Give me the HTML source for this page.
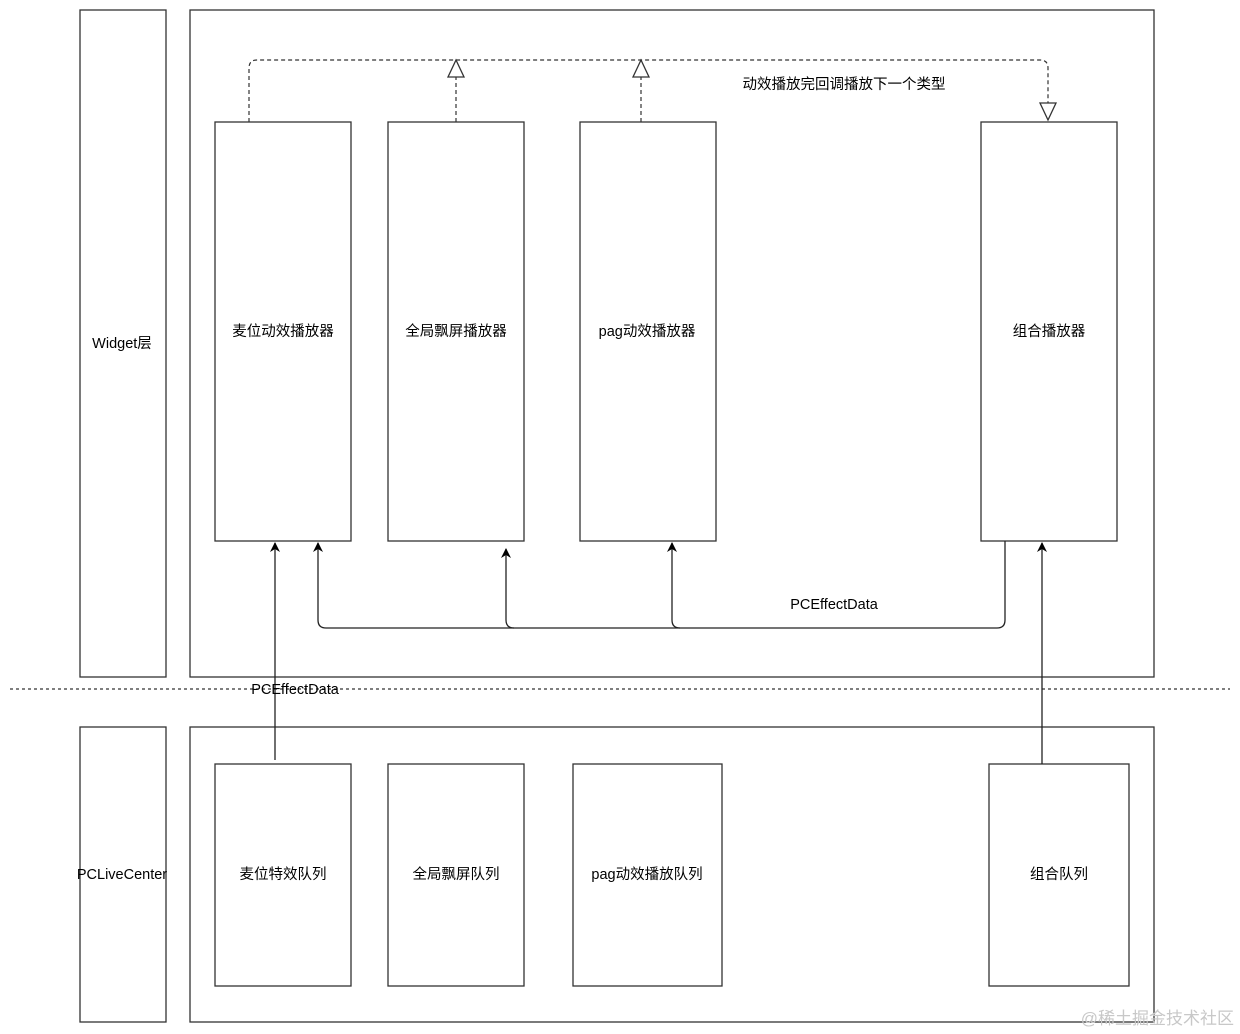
<!DOCTYPE html>
<html><head><meta charset="utf-8"><style>
html,body{margin:0;padding:0;background:#fff;}
svg{display:block;}
text{font-family:"Liberation Sans","Noto Sans CJK SC",sans-serif;font-size:14.5px;fill:#000;}
</style></head><body>
<svg width="1240" height="1034" viewBox="0 0 1240 1034" xmlns="http://www.w3.org/2000/svg">
<defs>
<marker id="a" viewBox="0 0 10 10" refX="9" refY="5" markerWidth="11" markerHeight="10" orient="auto" markerUnits="userSpaceOnUse">
<path d="M0,0 L10,5 L0,10 L3,5 Z" fill="#000"/></marker>
</defs>
<g fill="none" stroke="#333" stroke-width="1.3">
<rect x="80" y="10" width="86" height="667"/>
<rect x="80" y="727" width="86" height="295"/>
<rect x="190" y="10" width="964" height="667"/>
<rect x="190" y="727" width="964" height="295"/>
<rect x="215" y="122" width="136" height="419"/>
<rect x="388" y="122" width="136" height="419"/>
<rect x="580" y="122" width="136" height="419"/>
<rect x="981" y="122" width="136" height="419"/>
<rect x="215" y="764" width="136" height="222"/>
<rect x="388" y="764" width="136" height="222"/>
<rect x="573" y="764" width="149" height="222"/>
<rect x="989" y="764" width="140" height="222"/>
</g>
<line x1="10" y1="689" x2="1230" y2="689" stroke="#333" stroke-width="1.2" stroke-dasharray="3,3"/>
<g fill="none" stroke="#333" stroke-width="1.2" stroke-dasharray="4,3">
<path d="M249,122 V68 Q249,60 257,60 H1040 Q1048,60 1048,68 V103"/>
<line x1="456" y1="122" x2="456" y2="77"/>
<line x1="641" y1="122" x2="641" y2="77"/>
</g>
<g fill="#fff" stroke="#333" stroke-width="1.3">
<path d="M1040,103 L1056,103 L1048,120 Z"/>
<path d="M448,77 L464,77 L456,60 Z"/>
<path d="M633,77 L649,77 L641,60 Z"/>
</g>
<g fill="none" stroke="#222" stroke-width="1.3">
<line x1="275" y1="760" x2="275" y2="543" marker-end="url(#a)"/>
<line x1="1042" y1="764" x2="1042" y2="543" marker-end="url(#a)"/>
<path d="M1005,541 V620 Q1005,628 997,628 H326 Q318,628 318,620 V543" marker-end="url(#a)"/>
<path d="M514,628 Q506,628 506,620 V549" marker-end="url(#a)"/>
<path d="M680,628 Q672,628 672,620 V543" marker-end="url(#a)"/>
</g>
<text x="122" y="348" text-anchor="middle">Widget层</text>
<text x="122" y="879" text-anchor="middle">PCLiveCenter</text>
<text x="283" y="336" text-anchor="middle">麦位动效播放器</text>
<text x="456" y="336" text-anchor="middle">全局飘屏播放器</text>
<text x="647" y="336" text-anchor="middle">pag动效播放器</text>
<text x="1049" y="336" text-anchor="middle">组合播放器</text>
<text x="283" y="879" text-anchor="middle">麦位特效队列</text>
<text x="456" y="879" text-anchor="middle">全局飘屏队列</text>
<text x="647" y="879" text-anchor="middle">pag动效播放队列</text>
<text x="1059" y="879" text-anchor="middle">组合队列</text>
<text x="844" y="89" text-anchor="middle">动效播放完回调播放下一个类型</text>
<text x="834" y="609" text-anchor="middle">PCEffectData</text>
<text x="295" y="694" text-anchor="middle">PCEffectData</text>
<text x="1234" y="1024" text-anchor="end" style="font-size:17px;fill:#c8c8c8;">@稀土掘金技术社区</text>
</svg>
</body></html>
